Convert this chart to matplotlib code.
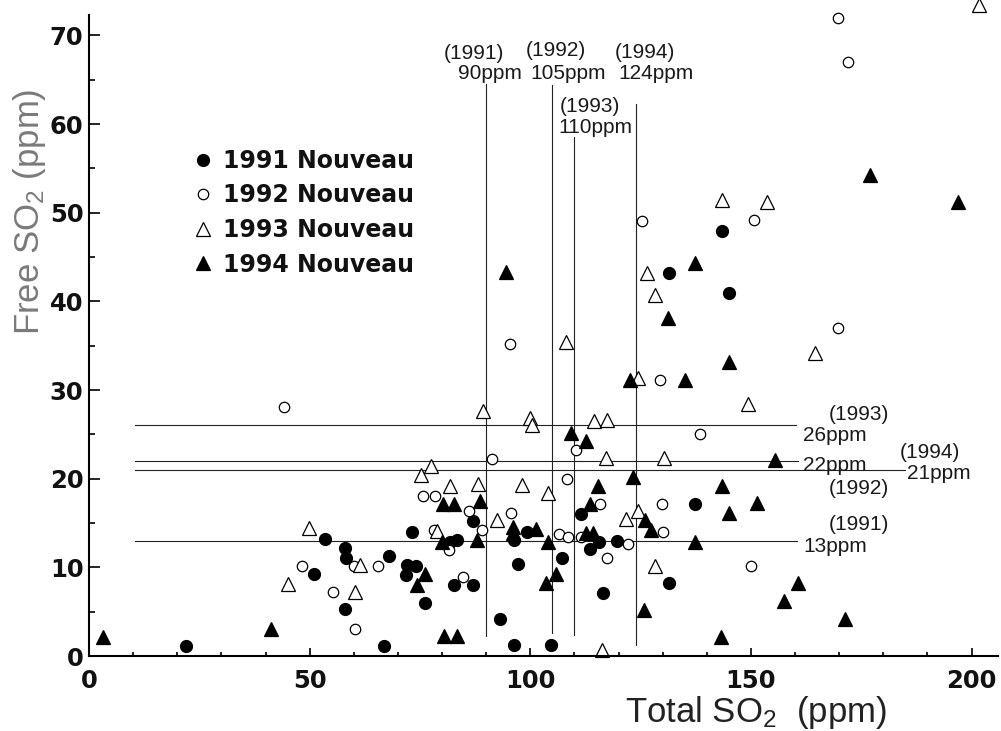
import matplotlib
matplotlib.use('Agg')
import matplotlib.pyplot as plt
from matplotlib.ticker import MultipleLocator

plt.rcParams['mathtext.fontset'] = 'custom'
plt.rcParams['mathtext.rm'] = 'Liberation Sans'
plt.rcParams['mathtext.it'] = 'Liberation Sans'

# data (total SO2, free SO2)
x1991 = [22.0, 53.4, 73.1, 58.1, 58.3, 50.9, 67.9, 72.0, 74.2, 71.9, 58.1, 76.2, 66.8,
         87.0, 111.4, 96.4, 99.3, 81.8, 83.5, 115.6, 119.6, 113.6, 97.3, 107.3, 82.8,
         87.1, 116.5, 93.2, 96.3, 104.8, 131.4, 137.3, 131.4, 145.0, 143.5]
y1991 = [1.1, 13.2, 14.0, 12.2, 11.1, 9.2, 11.3, 10.3, 10.2, 9.1, 5.3, 6.0, 1.1,
         15.2, 16.0, 13.1, 14.0, 12.9, 13.1, 12.9, 13.0, 12.1, 10.4, 11.1, 8.0,
         8.0, 7.1, 4.2, 1.2, 1.2, 8.2, 17.2, 43.2, 40.9, 47.9]

x1992 = [44.3, 75.6, 48.3, 60.0, 65.4, 55.4, 60.3, 91.3, 110.3, 108.4, 78.4, 115.7,
         86.2, 95.6, 89.0, 78.1, 81.6, 106.5, 108.6, 111.5, 117.4, 84.7, 122.2, 129.9,
         130.0, 138.5, 129.3, 150.1, 169.7, 95.4, 125.4, 150.6, 169.8, 172.0]
y1992 = [28.1, 18.0, 10.2, 10.1, 10.2, 7.2, 3.1, 22.2, 23.2, 20.0, 18.1, 17.1,
         16.3, 16.1, 14.2, 14.2, 12.0, 13.8, 13.4, 13.4, 11.1, 8.9, 12.6, 17.2,
         14.0, 25.0, 31.1, 10.1, 37.0, 35.2, 49.1, 49.2, 72.0, 67.0]

x1993 = [75.2, 49.9, 61.5, 45.1, 60.2, 89.3, 99.9, 100.4, 114.5, 117.5, 117.2, 77.4,
         81.9, 88.2, 98.1, 104.1, 92.4, 78.8, 116.3, 121.8, 124.4, 128.3, 130.4, 128.2,
         164.6, 124.5, 149.3, 201.7, 143.5, 153.6, 126.5, 108.1]
y1993 = [20.4, 14.4, 10.3, 8.1, 7.2, 27.6, 26.8, 26.1, 26.5, 26.6, 22.3, 21.4,
         19.2, 19.4, 19.3, 18.4, 15.3, 14.1, 0.7, 15.4, 16.3, 10.2, 22.3, 40.7,
         34.2, 31.4, 28.4, 73.4, 51.4, 51.2, 43.2, 35.4]

x1994 = [3.1, 41.3, 76.1, 74.3, 109.3, 112.7, 115.3, 80.3, 82.7, 88.5, 113.5, 96.2,
         96.2, 101.2, 80.1, 87.9, 104.0, 112.7, 114.3, 105.8, 103.5, 80.5, 83.5, 125.9,
         127.4, 123.2, 125.7, 143.5, 145.0, 137.3, 143.2, 131.2, 145.0, 122.5, 135.0,
         155.5, 151.4, 160.6, 157.4, 171.4, 177.0, 197.0, 137.4, 94.6]
y1994 = [2.1, 3.1, 9.2, 8.0, 25.1, 24.3, 19.2, 17.1, 17.1, 17.5, 17.2, 14.5,
         13.9, 14.3, 12.9, 13.1, 12.9, 13.9, 13.9, 9.2, 8.2, 2.2, 2.3, 15.3,
         14.2, 20.2, 5.2, 19.2, 16.1, 12.9, 2.1, 38.1, 33.2, 31.1, 31.1,
         22.1, 17.3, 8.2, 6.2, 4.2, 54.2, 51.2, 44.3, 43.3]

# critical total SO2 per vintage (vertical) and free SO2 (horizontal)
vyears = ['(1991)', '(1992)', '(1993)', '(1994)']
vvalues = [90, 105, 110, 124]
vtops = [64.5, 64.4, 58.5, 62.3]
vbottoms = [2.2, 2.6, 2.4, 1.2]

hyears = ['(1991)', '(1992)', '(1993)', '(1994)']
hvalues = [13, 21, 26, 22]
hends = [160.5, 185, 160.2, 160.6]

fig = plt.figure(figsize=(10.01, 7.31), dpi=100)
ax = fig.add_axes([89 / 1001, 75 / 731, 909 / 1001, 641 / 731])

ax.plot(x1991, y1991, 'o', ms=8.5, mfc='black', mec='black', mew=1.0,
        label='1991 Nouveau', clip_on=False)
ax.plot(x1992, y1992, 'o', ms=7.5, mfc='white', mec='black', mew=0.9,
        label='1992 Nouveau', clip_on=False)
ax.plot(x1993, y1993, '^', ms=9.5, mfc='white', mec='black', mew=0.9,
        label='1993 Nouveau', clip_on=False)
ax.plot(x1994, y1994, '^', ms=9.5, mfc='black', mec='black', mew=0.9,
        label='1994 Nouveau', clip_on=False)

for v, b, t in zip(vvalues, vbottoms, vtops):
    ax.plot([v, v], [b, t], color='#222222', lw=0.8, zorder=1)
for h, e in zip(hvalues, hends):
    ax.plot([10.5, e], [h, h], color='#222222', lw=0.8, zorder=1)

afont = dict(family='Liberation Sans', fontsize=15, color='#1a1a1a')
# labels above the vertical lines
ax.text(87.3, 68.0, vyears[0], ha='center', va='center', **afont)
ax.text(90.9, 65.7, f'{vvalues[0]}ppm', ha='center', va='center', **afont)
ax.text(105.7, 68.3, vyears[1], ha='center', va='center', **afont)
ax.text(108.6, 65.7, f'{vvalues[1]}ppm', ha='center', va='center', **afont)
ax.text(113.5, 62.0, vyears[2], ha='center', va='center', **afont)
ax.text(114.7, 59.6, f'{vvalues[2]}ppm', ha='center', va='center', **afont)
ax.text(125.9, 68.1, vyears[3], ha='center', va='center', **afont)
ax.text(128.6, 65.7, f'{vvalues[3]}ppm', ha='center', va='center', **afont)

# labels at the end of the horizontal lines
ax.text(174.4, 27.2, hyears[2], ha='center', va='center', **afont)
ax.text(161.8, 24.9, f'{hvalues[2]}ppm', ha='left', va='center', **afont)
ax.text(161.8, 21.5, f'{hvalues[3]}ppm', ha='left', va='center', **afont)
ax.text(190.6, 22.9, hyears[3], ha='center', va='center', **afont)
ax.text(185.4, 20.6, f'{hvalues[1]}ppm', ha='left', va='center', **afont)
ax.text(174.4, 18.9, hyears[1], ha='center', va='center', **afont)
ax.text(174.4, 14.8, hyears[0], ha='center', va='center', **afont)
ax.text(161.8, 12.3, f'{hvalues[0]}ppm', ha='left', va='center', **afont)

ax.set_xlim(0, 206)
ax.set_ylim(0, 72.3)
ax.xaxis.set_major_locator(MultipleLocator(50))
ax.xaxis.set_minor_locator(MultipleLocator(10))
ax.yaxis.set_major_locator(MultipleLocator(10))
ax.yaxis.set_minor_locator(MultipleLocator(5))
ax.tick_params(which='both', direction='in', color='black', width=1.2)
ax.tick_params(which='major', axis='x', length=6, pad=9)
ax.tick_params(which='minor', axis='x', length=3)
ax.tick_params(which='major', axis='y', length=8, pad=4)
ax.tick_params(which='minor', axis='y', length=4)
for lab in ax.get_xticklabels() + ax.get_yticklabels():
    lab.set_fontfamily('DejaVu Sans')
    lab.set_fontweight('bold')
    lab.set_fontsize(17.5)
    lab.set_color('#111111')

for s in ['top', 'right']:
    ax.spines[s].set_visible(False)
for s in ['left', 'bottom']:
    ax.spines[s].set_linewidth(1.5)
    ax.spines[s].set_color('black')

leg = ax.legend(loc='upper left', bbox_to_anchor=(182 / 1001, 1 - 137 / 731),
                bbox_transform=fig.transFigure, frameon=False, borderpad=0,
                handlelength=0.8, handletextpad=0.45, labelspacing=0.45,
                prop={'family': 'DejaVu Sans', 'weight': 'bold', 'size': 17})
for t in leg.get_texts():
    t.set_color('#111111')

fig.text(30 / 1001, 1 - 212 / 731, 'Free SO$_2$ (ppm)', rotation=90,
         ha='center', va='center', fontsize=25, color='#7a7a7a',
         family='Liberation Sans')
fig.text(625 / 1001, 9 / 731, 'Total SO$_2$  (ppm)', ha='left', va='baseline',
         fontsize=25, color='#222222', family='Liberation Sans')

fig.savefig('out.png', dpi=100)
